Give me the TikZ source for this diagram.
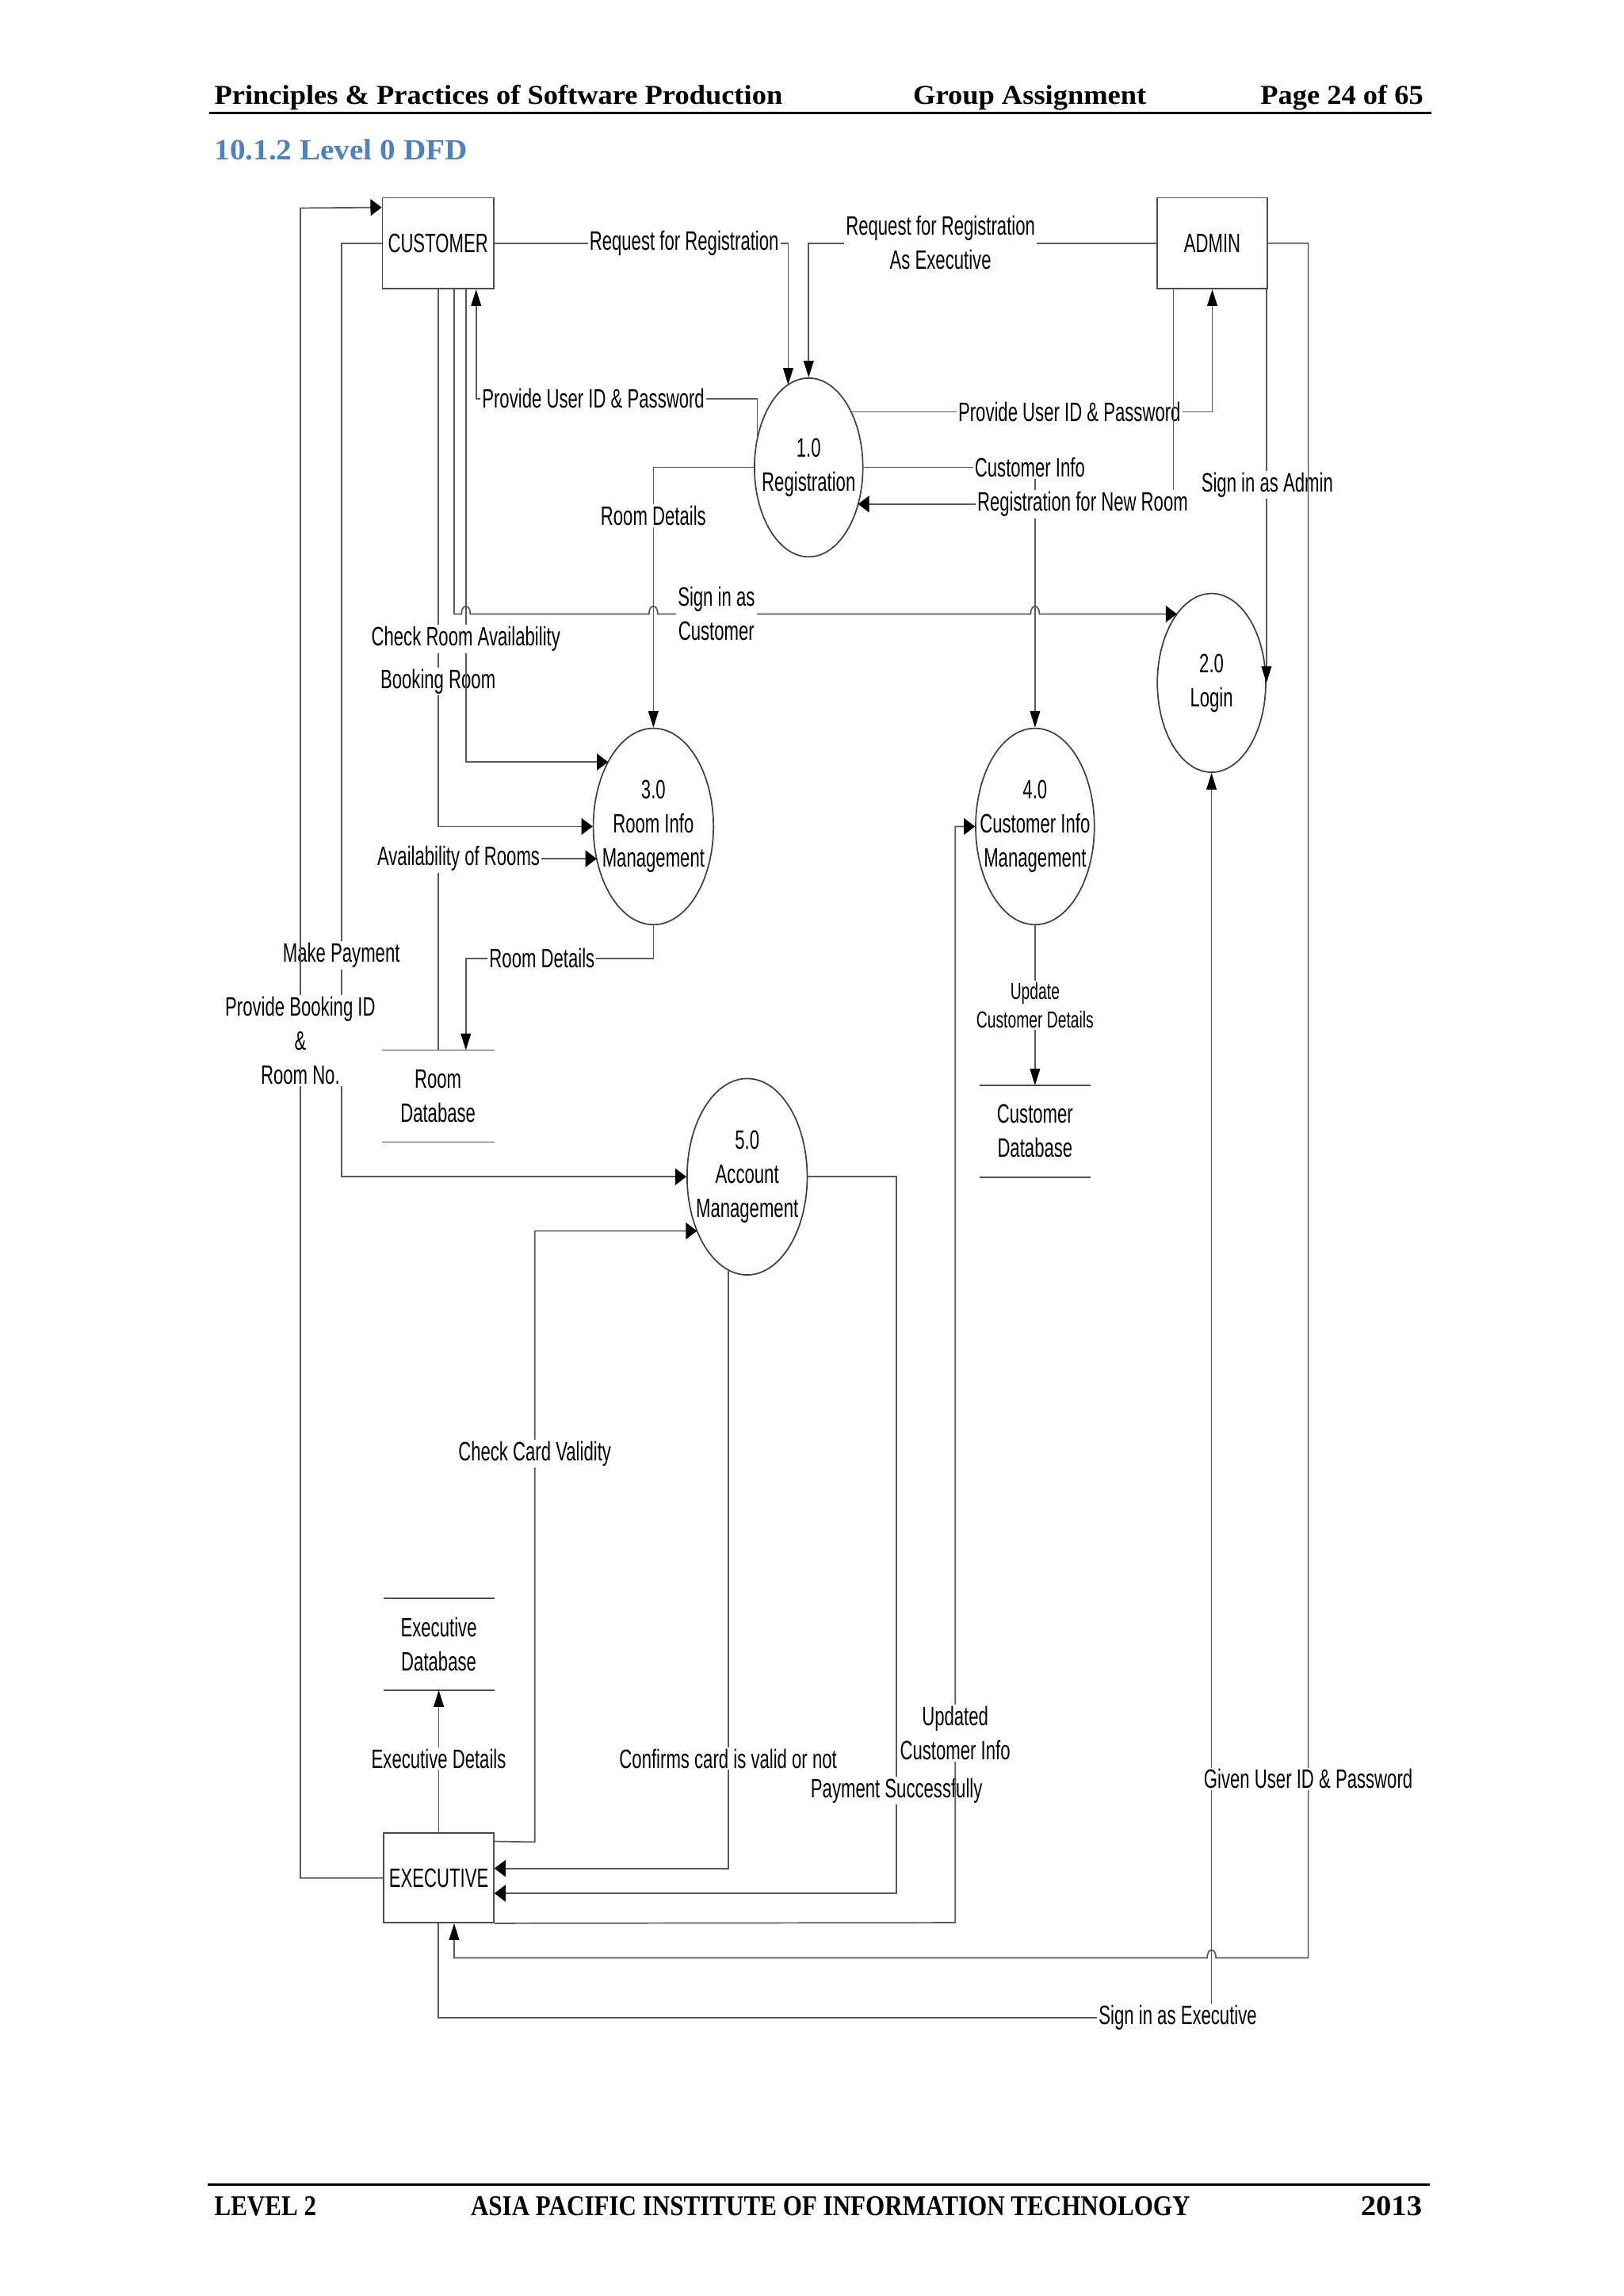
\documentclass[tikz,border=0pt]{standalone}
\usepackage{fontspec}
\setmainfont{Liberation Serif}
\newfontfamily\dfdfont[FakeStretch=0.66]{Liberation Sans}
\newfontfamily\hdrfont[FakeStretch=1.06]{Liberation Serif}
\newfontfamily\ftrfont[FakeStretch=0.86]{Liberation Serif}
\newfontfamily\ftrnumfont[FakeStretch=1.07]{Liberation Serif}
\usetikzlibrary{arrows.meta,shapes.geometric,calc}
\newlength\ux
\setlength\ux{0.5373pt}
\definecolor{titleblue}{RGB}{79,129,189}
\newcommand\dfd{\dfdfont\fontsize{9.75pt}{12.5pt}\selectfont}
\newcommand\dfdsmall{\dfdfont\fontsize{8.5pt}{10.7pt}\selectfont}
\tikzset{
  ent/.style={draw=black!70, line width=0.5pt, rectangle, minimum width=76\ux, minimum height=62\ux, inner sep=0pt, font=\dfd, fill=white},
  proc/.style={draw=black!75, line width=0.5pt, ellipse, inner sep=0pt},
  ptext/.style={align=center, font=\dfd, inner sep=0pt},
  store/.style={rectangle, minimum width=76\ux, minimum height=62\ux, inner sep=0pt, align=center, font=\dfd},
  stline/.style={draw=black!70, line width=0.5pt},
  flow/.style={draw=black!65, line width=0.5pt},
  harr/.style={flow, -{Triangle[length=4.1pt,width=6.1pt,color=black]}},
  varr/.style={flow, -{Triangle[length=6.1pt,width=3.7pt,color=black]}},
  lbl/.style={fill=white, inner sep=0.6pt, align=center, font=\dfd},
  hdr/.style={inner sep=0pt, font=\hdrfont\fontsize{10pt}{12pt}\selectfont\bfseries},
  ftr/.style={inner sep=0pt, font=\ftrfont\fontsize{10.5pt}{12pt}\selectfont\bfseries}
}
\begin{document}
\begin{tikzpicture}[x=0.5373pt,y=-0.5373pt]
\fill[white] (0,0) rectangle (1108,1566.8);
\useasboundingbox (0,0) rectangle (1108,1566.8);

% header and footer
\node[hdr, anchor=base west] (h1) at (146,71) {Principles \& Practices of Software Production};
\node[hdr, anchor=base west] (h2) at (623,71) {Group Assignment};
\node[hdr, anchor=base east] (h3) at (972,71) {Page 24 of 65};
\draw[line width=0.9pt] (143,77) -- (977,77);
\node[inner sep=0pt, anchor=base west, text=titleblue, font=\hdrfont\fontsize{10.75pt}{13pt}\selectfont\bfseries] (title) at (146,108.8) {10.1.2 Level 0 DFD};
\draw[line width=0.9pt] (142,1491) -- (976,1491);
\node[ftr, anchor=base west] (f1) at (146,1512) {LEVEL 2};
\node[ftr, anchor=base west] (f2) at (321,1512) {ASIA PACIFIC INSTITUTE OF INFORMATION TECHNOLOGY};
\node[inner sep=0pt, anchor=base east, font=\ftrnumfont\fontsize{10.5pt}{12pt}\selectfont\bfseries] (f3) at (971,1512) {2013};

% entities
\node[ent] (cust) at (299,166) {CUSTOMER};
\node[ent, minimum width=75\ux] (admin) at (827.5,166) {ADMIN};
\node[ent, minimum width=75\ux, minimum height=61\ux] (exec) at (299.5,1281.5) {EXECUTIVE};

% processes
\node[proc, minimum width=74\ux, minimum height=122\ux] (p1) at (552,319) {};
\node[ptext] at (p1) {1.0\\Registration};
\node[proc, minimum width=74\ux, minimum height=122\ux] (p2) at (827,466) {};
\node[ptext] at (p2) {2.0\\Login};
\node[proc, minimum width=82\ux, minimum height=134\ux] (p3) at (446,564) {};
\node[ptext] at (p3) {3.0\\Room Info\\Management};
\node[proc, minimum width=81\ux, minimum height=134\ux] (p4) at (706.5,564) {};
\node[ptext] at (p4) {4.0\\Customer Info\\Management};
\node[proc, minimum width=82\ux, minimum height=134\ux] (p5) at (510,803) {};
\node[ptext] at (p5) {5.0\\Account\\Management};

% data stores
\node[store] (roomdb) at (299,748) {Room\\Database};
\draw[stline] (roomdb.north west) -- (roomdb.north east) (roomdb.south west) -- (roomdb.south east);
\node[store, minimum width=75\ux] (custdb) at (706.5,772) {Customer\\Database};
\draw[stline] (custdb.north west) -- (custdb.north east) (custdb.south west) -- (custdb.south east);
\node[store, minimum width=75\ux] (execdb) at (299.5,1122) {Executive\\Database};
\draw[stline] (execdb.north west) -- (execdb.north east) (execdb.south west) -- (execdb.south east);

% flows
% Make Payment
\draw[harr] (cust.west) -- (233,166) -- (233,803) -- (p5.west);
\node[lbl] at (233,652) {Make Payment};
% Provide Booking ID & Room No.
\draw[harr] (exec.west) -- (205,1281.5) -- (205,142) -- ($(cust.north west)+(0,7)$);
\node[lbl] at (205,710) {Provide Booking ID\\\&\\Room No.};
% Booking Room
\draw[harr] (cust.south) -- (299,564) -- (p3.west);
\node[lbl] at (299,465) {Booking Room};
% Check Room Availability
\draw[harr] ($(cust.south)+(19,0)$) -- (318,520) -- ($(p3)+(-30.9,-44)$);
\node[lbl] at (318,436) {Check Room Availability};
% Sign in as Customer
\draw[harr] ($(cust.south)+(11,0)$) -- (310,419) -- (315,419) .. controls (315,412) and (321,412) .. (321,419) -- (443,419) .. controls (443,412) and (449,412) .. (449,419) -- (703.5,419) .. controls (703.5,412) and (709.5,412) .. (709.5,419) -- ($(p2)+(-23.6,-47)$);
\node[lbl] at (489,419) {Sign in as\\Customer};
% Room Details (1.0 -> 3.0)
\draw[varr] (p1.west) -- (446,319) -- (p3.north);
\node[lbl] at (446,352) {Room Details};
% Provide User ID & Password (to customer)
\draw[varr] ($(p1)+(-35,-20)$) -- (517,272) -- (325,272) -- ($(cust.south)+(26,0)$);
\node[lbl] at (405,272) {Provide User ID \& Password};
% Request for Registration
\draw[varr] (cust.east) -- (538,166) -- ($(p1)+(-14,-56.5)$);
\node[lbl] at (467,166) {Request for Registration};
% Request for Registration As Executive
\draw[varr] (admin.west) -- (552,166) -- (p1.north);
\node[lbl] at (642,165.5) {Request for Registration\\As Executive};
% Provide User ID & Password (to admin)
\draw[varr] ($(p1)+(29,-38)$) -- (827.5,281) -- (admin.south);
\node[lbl] at (730,281) {Provide User ID \& Password};
% Customer Info
\draw[varr] (p1.east) -- (706.5,319) -- (p4.north);
\node[lbl] at (703,319) {Customer Info};
% Registration for New Room
\draw[harr] ($(admin.south)+(-26.5,0)$) -- (801,344) -- ($(p1)+(33.7,25)$);
\node[lbl] at (739,344) {Registration for New Room};
% Sign in as Admin
\draw[varr] ($(admin.south east)+(-1,0)$) -- (p2.east);
\node[lbl] at (865,331) {Sign in as Admin};
% Sign in as Executive
\draw[varr] ($(exec.south)+(-0.5,0)$) -- (299,1377) -- (827,1377) -- (p2.south);
\node[lbl] at (804,1377) {Sign in as Executive};
% Given User ID & Password
\draw[varr] (admin.east) -- (893,166) -- (893,1336) -- (830,1336) .. controls (830,1329) and (824,1329) .. (824,1336) -- (310,1336) -- ($(exec.south)+(10.5,0)$);
\node[lbl] at (893,1214) {Given User ID \& Password};
% Check Card Validity
\draw[harr] ($(exec.north east)+(0,6)$) -- (365,1257) -- (365,840) -- ($(p5)+(-34.2,37)$);
\node[lbl] at (365,992) {Check Card Validity};
% Confirms card is valid or not
\draw[harr] ($(p5)+(-13,63.5)$) -- (497,1275) -- ($(exec.east)+(0,-6.5)$);
\node[lbl] at (497,1200) {Confirms card is valid or not};
% Payment Successfully
\draw[harr] (p5.east) -- (612,803) -- (612,1292) -- ($(exec.east)+(0,10.5)$);
\node[lbl] at (612,1222) {Payment Successfully};
% Updated Customer Info
\draw[harr] (exec.south east) -- (652,1312) -- (652,564) -- (p4.west);
\node[lbl] at (652,1182.5) {Updated\\Customer Info};
% Update Customer Details
\draw[varr] (p4.south) -- (custdb.north);
\node[lbl, font=\dfdsmall] at (706.5,686) {Update\\Customer Details};
% Executive Details
\draw[varr] (exec.north) -- (execdb.south);
\node[lbl] at (299.5,1200) {Executive Details};
% Room Details (3.0 -> Room Database)
\draw[varr] (p3.south) -- (446,654) -- (318,654) -- ($(roomdb.north)+(19,0)$);
\node[lbl] at (370,654) {Room Details};
% Availability of Rooms
\draw[harr] (roomdb.north) -- (299,586) -- ($(p3)+(-38.7,22)$);
\node[lbl] at (313,586) {Availability of Rooms};
\end{tikzpicture}
\end{document}
